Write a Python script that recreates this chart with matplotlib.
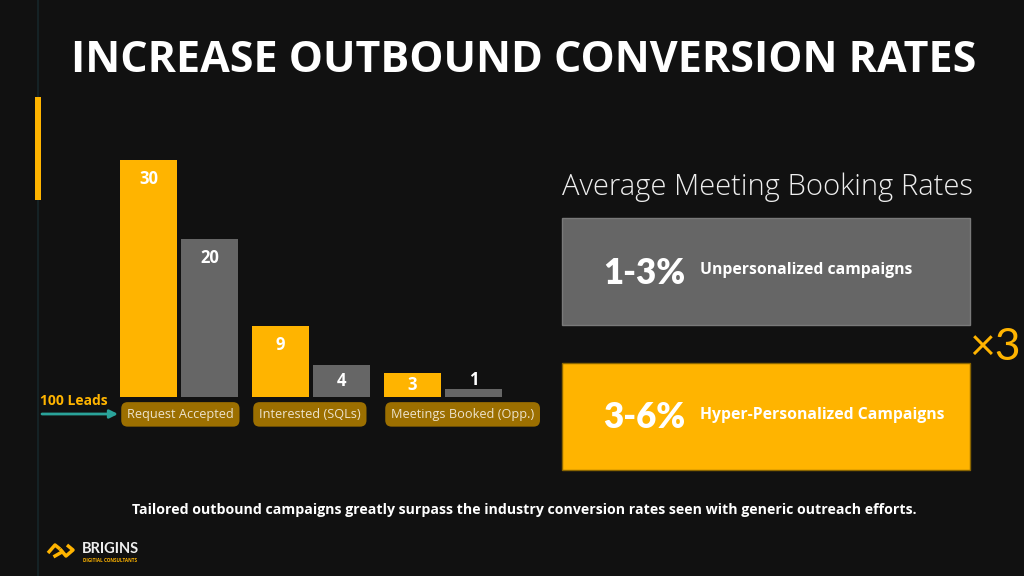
import numpy as np
import matplotlib.pyplot as plt
from matplotlib.patches import Rectangle

# colours
BG = '#111111'
YELLOW = '#FFB400'
GRAY = '#666666'
TAG = '#9C6F00'
TEAL = '#2AA39A'

# data
stages = ['Request Accepted', 'Interested (SQLs)', 'Meetings Booked (Opp.)']
personalized = [30, 9, 3]
generic = [20, 4, 1]
leads = 100

rate_values = ['1-3%', '3-6%']
rate_names = ['Unpersonalized campaigns', 'Hyper-Personalized Campaigns']
multiplier = '×3'

title = 'INCREASE OUTBOUND CONVERSION RATES'
subtitle = 'Average Meeting Booking Rates'
footer = ('Tailored outbound campaigns greatly surpass the industry conversion '
          'rates seen with generic outreach efforts.')

plt.rcParams['font.family'] = ['Open Sans', 'DejaVu Sans']

fig = plt.figure(figsize=(10.24, 5.76), dpi=100, facecolor=BG)

# full-figure layer in pixel coordinates for decoration
deco = fig.add_axes([0, 0, 1, 1])
deco.set_xlim(0, 1024)
deco.set_ylim(576, 0)
deco.axis('off')

deco.plot([38, 38], [0, 576], color='#17262a', lw=1.2, zorder=0)
deco.add_patch(Rectangle((35, 97), 6, 103, facecolor=YELLOW,
                         edgecolor='none', zorder=1))

deco.text(524, 60, title, ha='center', va='center', color='white',
          fontsize=31, fontweight='bold')

# bar chart
px_per_unit = 7.9
base_px, top_px = 397, 144
ax = fig.add_axes([100 / 1024, (576 - base_px) / 576, 420 / 1024,
                   (base_px - top_px) / 576])
ax.set_facecolor('none')
ax.set_xlim((100 - 179) / 132, (520 - 179) / 132)
ax.set_ylim(0, (base_px - top_px) / px_per_unit)
ax.axis('off')

x = np.arange(len(stages))
w, off = 0.432, 0.231
ax.bar(x - off, personalized, w, color=YELLOW)
ax.bar(x + off, generic, w, color=GRAY)

for xs, vals in ((x - off, personalized), (x + off, generic)):
    for xi, v in zip(xs, vals):
        yy = v + 1.1 if v < 2 else max(v - 2.4, v / 2)
        ax.text(xi, yy, str(v), ha='center', va='center', color='white',
                fontsize=12, fontweight='bold')

for xi, s in zip(x - off - w / 2 + 0.053, stages):
    ax.text(xi, -2.2, s, ha='left', va='center', color='#EDE3CC',
            fontsize=9.2, clip_on=False,
            bbox=dict(boxstyle='round,pad=0.45,rounding_size=0.5',
                      facecolor=TAG, edgecolor='none'))

deco.text(40, 401, f'{leads} Leads', ha='left', va='center', color=YELLOW,
          fontsize=10, fontweight='bold')
deco.annotate('', xy=(118, 414), xytext=(42, 414),
              arrowprops=dict(arrowstyle='-|>', color=TEAL, lw=2,
                              mutation_scale=12, shrinkA=0, shrinkB=0))

# rates panel
deco.text(562, 187, subtitle, ha='left', va='center', color='#EEEEEE',
          fontsize=21, fontweight='light')
box_fill = [GRAY, YELLOW]
box_edge = ['#7a7a7a', '#8a6500']
box_top = [218, 363]
for top, fc, ec, val, name in zip(box_top, box_fill, box_edge, rate_values,
                                  rate_names):
    deco.add_patch(Rectangle((562, top), 408, 107, facecolor=fc,
                             edgecolor=ec, lw=1))
    deco.text(603, top + 55, val, ha='left', va='center', color='white',
              fontsize=25, fontweight='heavy', family=['Lato', 'DejaVu Sans'])
    deco.text(700, top + 52, name, ha='left', va='center', color='white',
              fontsize=11.3, fontweight='bold')

deco.text(995, 347, multiplier, ha='center', va='center', color=YELLOW,
          fontsize=32, fontweight='normal', family=['Lato', 'DejaVu Sans'])

deco.text(524, 510, footer, ha='center', va='center', color='white',
          fontsize=10.2, fontweight='bold')

# logo
deco.plot([48, 55, 60], [553, 545, 549], color=YELLOW, lw=2.5,
          solid_capstyle='butt')
deco.plot([60, 66, 73, 67], [549, 556, 550, 545], color=YELLOW, lw=2.5,
          solid_capstyle='butt')
deco.plot([55, 62], [556, 552], color=YELLOW, lw=2.5)
deco.text(82, 549, 'BRIGINS', ha='left', va='center', color='#EEEEEE',
          fontsize=10.5, fontweight='bold', family=['Lato', 'DejaVu Sans'])
deco.text(83, 560, 'DIGITIAL CONSULTANTS', ha='left', va='center',
          color=YELLOW, fontsize=3.3, fontweight='bold')

fig.savefig('out.png', dpi=100, facecolor=BG)
